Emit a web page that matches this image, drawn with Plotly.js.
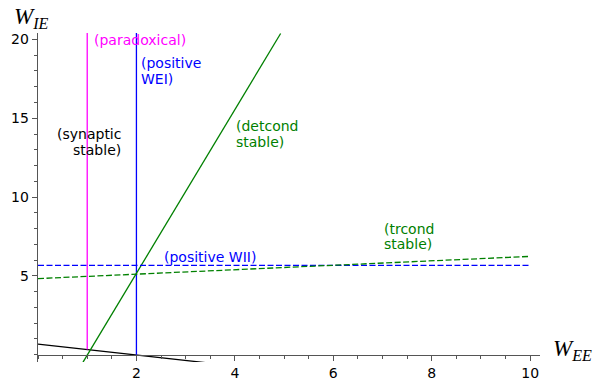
<!DOCTYPE html>
<html>
<head>
<meta charset="utf-8">
<script src="https://cdn.plot.ly/plotly-3.0.1.min.js"></script>
<style>html,body{margin:0;padding:0;background:#fff}#chart{width:613px;height:384px}</style>
</head>
<body>
<div id="chart"></div>
<script>
// ---- data ----
const synapticX = [0, 3.4];
const synapticY = [0.68, -0.5];
const paradoxX = [1, 1];
const paradoxY = [0.33, 20.5];
const posWEIX = [2, 2];
const posWEIY = [0, 20.5];
const detcondX = [0.915, 4.93];
const detcondY = [-0.47, 20.38];
const posWIIX = [0, 10];
const posWIIY = [5.67, 5.67];
const trcondX = [0, 10];
const trcondY = [4.83, 6.24];

const xTickVals = [2, 4, 6, 8, 10];
const xTickText = ['2', '4', '6', '8', '10'];
const yTickVals = [5, 10, 15, 20];
const yTickText = ['5', '10', '15', '20'];

const xRange = [0, 10.2];
const yRange = [-0.46, 20.41];

const labelFont = 'DejaVu Sans, sans-serif';
const fs = 14;

function line(x, y, color, dash) {
  return {x: x, y: y, type: 'scatter', mode: 'lines', hoverinfo: 'skip',
    line: {color: color, width: 1.3, dash: dash || 'solid'}};
}

const traces = [
  line(synapticX, synapticY, '#000000'),
  line(paradoxX, paradoxY, '#ff00ff'),
  line(posWEIX, posWEIY, '#0000ff'),
  line(detcondX, detcondY, '#008000'),
  line(posWIIX, posWIIY, '#0000ff', '6px,2.5px'),
  line(trcondX, trcondY, '#008000', '6px,2.5px')
];

function ann(text, x, y, color, xanchor) {
  return {text: text, x: x, y: y, xref: 'x', yref: 'y', showarrow: false,
    xanchor: xanchor || 'left', yanchor: 'middle',
    font: {family: labelFont, size: fs, color: color}};
}

const annotations = [
  ann('(paradoxical)', 1.1, 19.96, '#ff00ff'),
  ann('(positive', 2.06, 18.5, '#0000ff'),
  ann('WEI)', 2.06, 17.5, '#0000ff'),
  ann('(synaptic', 1.72, 14.0, '#000000', 'right'),
  ann('stable)', 1.72, 13.0, '#000000', 'right'),
  ann('(detcond', 3.99, 14.5, '#008000'),
  ann('stable)', 3.99, 13.5, '#008000'),
  ann('(positive WII)', 2.51, 6.22, '#0000ff'),
  ann('(trcond', 6.98, 8.0, '#008000'),
  ann('stable)', 6.98, 7.0, '#008000'),
  {text: '<i>W<sub>IE</sub></i>', xref: 'paper', yref: 'paper', x: -0.052, y: 1.045,
   xanchor: 'left', yanchor: 'middle', showarrow: false,
   font: {family: 'Liberation Serif, serif', size: 23, color: '#000'}},
  {text: '<i>W<sub>EE</sub></i>', xref: 'paper', yref: 'paper', x: 1.022, y: 0.035,
   xanchor: 'left', yanchor: 'middle', showarrow: false,
   font: {family: 'Liberation Serif, serif', size: 23, color: '#000'}}
];

const axisColor = '#555555';
const layout = {
  width: 613, height: 384,
  margin: {l: 38, r: 73, t: 33, b: 21.5, pad: 0},
  paper_bgcolor: '#ffffff', plot_bgcolor: '#ffffff',
  showlegend: false,
  font: {family: labelFont, size: fs, color: '#000'},
  xaxis: {
    range: xRange, anchor: 'free', position: (0 - yRange[0]) / (yRange[1] - yRange[0]),
    showgrid: false, zeroline: false, showline: true, linecolor: axisColor, linewidth: 1.3,
    ticks: 'outside', ticklen: 5, tickwidth: 1, tickcolor: axisColor,
    tickmode: 'array', tickvals: xTickVals, ticktext: xTickText,
    tickfont: {family: labelFont, size: fs, color: '#000'},
    minor: {tickmode: 'linear', tick0: 0, dtick: 0.5, ticklen: 3, tickcolor: axisColor, ticks: 'outside', showgrid: false},
    automargin: false, fixedrange: true
  },
  yaxis: {
    range: yRange, anchor: 'x',
    showgrid: false, zeroline: false, showline: true, linecolor: axisColor, linewidth: 1.3,
    ticks: 'outside', ticklen: 5, tickwidth: 1, tickcolor: axisColor,
    tickmode: 'array', tickvals: yTickVals, ticktext: yTickText,
    tickfont: {family: labelFont, size: fs, color: '#000'},
    minor: {tickmode: 'linear', tick0: 0, dtick: 1, ticklen: 3, tickcolor: axisColor, ticks: 'outside', showgrid: false},
    automargin: false, fixedrange: true
  },
  annotations: annotations
};

Plotly.newPlot('chart', traces, layout, {staticPlot: true, displayModeBar: false});
</script>
</body>
</html>
